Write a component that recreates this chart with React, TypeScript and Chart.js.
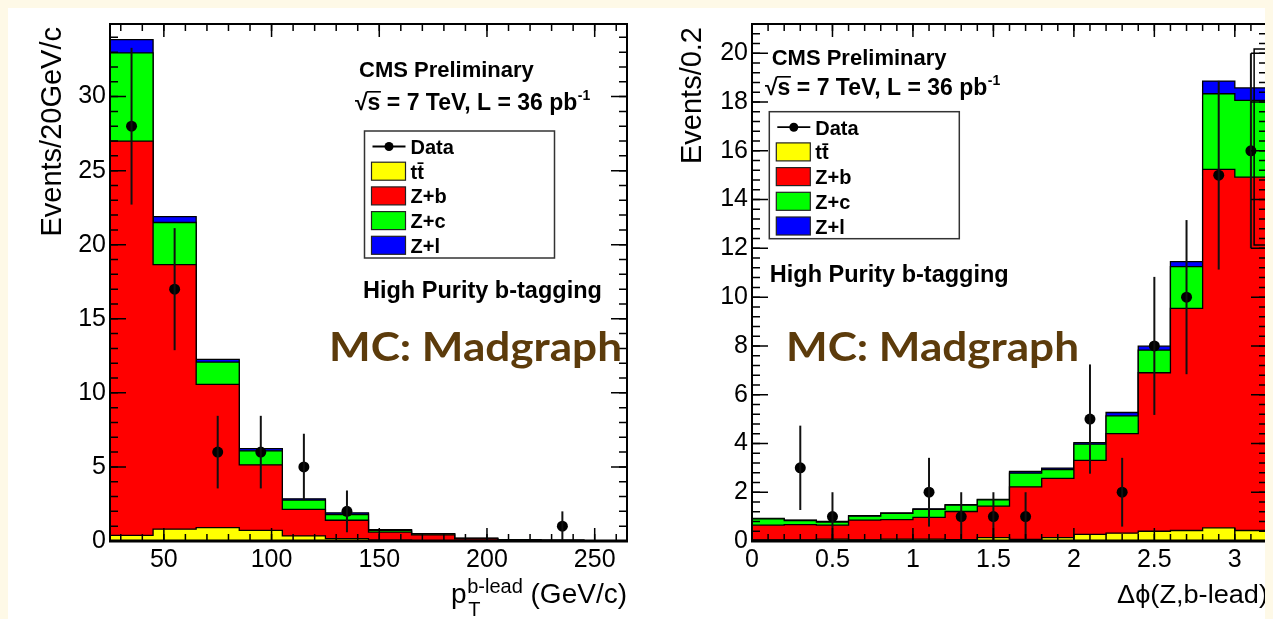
import React, { useEffect, useRef } from 'react';
import { Chart, registerables } from 'chart.js';

Chart.register(...registerables);

// ---------------- Left panel: leading b-jet pT ----------------
const ptBinEdges = [25, 45, 65, 85, 105, 125, 145, 165, 185, 205, 225, 245, 265];
const ptTtbar = [0.38, 0.8, 0.9, 0.72, 0.34, 0.16, 0.05, 0.03, 0.02, 0.01, 0.01, 0.0];
const ptZb = [26.62, 17.86, 9.67, 4.42, 1.79, 1.24, 0.55, 0.39, 0.13, 0.06, 0.03, 0.02];
const ptZc = [5.95, 2.84, 1.51, 0.95, 0.63, 0.39, 0.12, 0.06, 0.03, 0.01, 0.005, 0.005];
const ptZl = [0.9, 0.4, 0.18, 0.15, 0.09, 0.11, 0.05, 0.02, 0.01, 0.005, 0.005, 0.005];
const ptData = [28, 17, 6, 6, 5, 2, 0, 0, 0, 0, 1, 0];
const ptDataErr = [5.29, 4.12, 2.45, 2.45, 2.24, 1.41, 0, 0, 0, 0, 1.0, 0];
const ptYTicks = [0, 5, 10, 15, 20, 25, 30];
const ptXTicks = [50, 100, 150, 200, 250];

// ---------------- Right panel: delta phi(Z, b-lead) ----------------
const dphiBinEdges = [0, 0.2, 0.4, 0.6, 0.8, 1.0, 1.2, 1.4, 1.6, 1.8, 2.0, 2.2, 2.4, 2.6, 2.8, 3.0, 3.2];
const dphiTtbar = [0.04, 0.04, 0.08, 0.05, 0.08, 0.08, 0.06, 0.14, 0.07, 0.14, 0.27, 0.32, 0.4, 0.43, 0.54, 0.43];
const dphiZb = [0.61, 0.63, 0.57, 0.81, 0.8, 0.89, 1.15, 1.29, 2.15, 2.43, 3.04, 4.08, 6.5, 9.11, 14.7, 14.49];
const dphiZc = [0.26, 0.17, 0.13, 0.16, 0.25, 0.33, 0.26, 0.26, 0.56, 0.36, 0.66, 0.73, 0.93, 1.71, 3.1, 3.15];
const dphiZl = [0.02, 0.02, 0.02, 0.02, 0.02, 0.02, 0.02, 0.02, 0.07, 0.06, 0.06, 0.14, 0.16, 0.21, 0.52, 0.51];
const dphiData = [0, 3, 1, 0, 0, 2, 1, 1, 1, 0, 5, 2, 8, 10, 15, 16];
const dphiDataErr = [0, 1.73, 1.0, 0, 0, 1.41, 1.0, 1.0, 1.0, 0, 2.24, 1.41, 2.83, 3.16, 3.87, 4.0];
const dphiYTicks = [0, 2, 4, 6, 8, 10, 12, 14, 16, 18, 20];
const dphiXTicks = [0, 0.5, 1, 1.5, 2, 2.5, 3];
const dphiOverlayX = [3.2, 3.12, 3.12, 3.2];
const dphiOverlayY = [20.17, 20.17, 12.14, 12.14];

// ---------------- Legend ----------------
const legendLabels = ['Data', 'tt\u0304', 'Z+b', 'Z+c', 'Z+l'];
const componentColors = ['#ffff00', '#ff0000', '#00ff00', '#0000ff'];

const FONT = '"Liberation Sans", Arial, Helvetica, sans-serif';
const CANVAS_H = 611;

interface PanelCfg {
  edges: number[];
  comps: number[][];
  data: number[];
  err: number[];
  xMin: number;
  xMax: number;
  yMax: number;
  xTicks: number[];
  yTicks: number[];
  xMinorStep: number;
  yMinorStep: number;
  canvasWidth: number;
  yAxisWidth: number;
  padRight: number;
  yTitle: string;
  yTitleBaseX: number;
  xTitleKind: 'pt' | 'dphi';
  cms: [number, number];
  sqrt: [number, number];
  legend: [number, number];
  purity: [number, number];
  mc: [number, number];
  overlay?: { x: number[]; y: number[] };
}

function cumulate(series: number[][]): number[][] {
  const out: number[][] = [];
  let acc = series[0].map(() => 0);
  for (const s of series) {
    acc = acc.map((a, i) => a + s[i]);
    out.push(acc);
  }
  return out;
}

function histPoints(edges: number[], values: number[]) {
  const pts = values.map((v, i) => ({ x: edges[i], y: v }));
  pts.push({ x: edges[edges.length - 1], y: values[values.length - 1] });
  return pts;
}

function steps(min: number, max: number, step: number): number[] {
  const out: number[] = [];
  const n0 = Math.ceil(min / step - 1e-9);
  const n1 = Math.floor(max / step + 1e-9);
  for (let k = n0; k <= n1; k++) out.push(+(k * step).toFixed(6));
  return out;
}

function fitText(ctx: CanvasRenderingContext2D, text: string, x: number, y: number, font: string, width: number | null, align: CanvasTextAlign = 'left') {
  ctx.font = font;
  const w = ctx.measureText(text).width;
  const sx = width ? width / w : 1;
  ctx.save();
  ctx.translate(x, y);
  ctx.scale(sx, 1);
  ctx.textAlign = align;
  ctx.textBaseline = 'alphabetic';
  ctx.fillText(text, 0, 0);
  ctx.restore();
}

function drawSqrtLine(ctx: CanvasRenderingContext2D, x: number, y: number, size: number) {
  ctx.font = `bold ${size}px ${FONT}`;
  ctx.textAlign = 'left';
  ctx.textBaseline = 'alphabetic';
  ctx.fillStyle = '#000';
  const rad = '\u221A';
  const rm = ctx.measureText(rad);
  ctx.fillText(rad, x, y);
  const top = y - rm.actualBoundingBoxAscent;
  ctx.fillText('s', x + rm.width, y);
  const sw = ctx.measureText('s').width;
  ctx.strokeStyle = '#000';
  ctx.lineWidth = 1.6;
  ctx.beginPath();
  ctx.moveTo(x + rm.width - 1, top + 0.8);
  ctx.lineTo(x + rm.width + sw + 0.5, top + 0.8);
  ctx.stroke();
  let cx = x + rm.width + sw;
  const main = ' = 7 TeV, L = 36 pb';
  ctx.fillText(main, cx, y);
  cx += ctx.measureText(main).width;
  ctx.font = `bold ${Math.round(size * 0.6)}px ${FONT}`;
  ctx.fillText('-1', cx + 0.5, y - size * 0.42);
}

function drawLegend(ctx: CanvasRenderingContext2D, x: number, y: number) {
  const w = 190;
  const h = 127;
  ctx.fillStyle = '#fff';
  ctx.fillRect(x, y, w, h);
  ctx.strokeStyle = '#333';
  ctx.lineWidth = 1.5;
  ctx.strokeRect(x, y, w, h);
  legendLabels.forEach((lab, i) => {
    const cy = y + 15.5 + i * 24.7;
    if (i === 0) {
      ctx.strokeStyle = '#000';
      ctx.lineWidth = 1.8;
      ctx.beginPath();
      ctx.moveTo(x + 8, cy);
      ctx.lineTo(x + 41, cy);
      ctx.stroke();
      ctx.fillStyle = '#000';
      ctx.beginPath();
      ctx.arc(x + 24.5, cy, 4.5, 0, Math.PI * 2);
      ctx.fill();
    } else {
      ctx.fillStyle = componentColors[i - 1];
      ctx.fillRect(x + 7, cy - 9, 34, 18);
      ctx.strokeStyle = '#222';
      ctx.lineWidth = 1.2;
      ctx.strokeRect(x + 7, cy - 9, 34, 18);
    }
    ctx.fillStyle = '#000';
    ctx.font = `bold 20px ${FONT}`;
    ctx.textAlign = 'left';
    ctx.textBaseline = 'alphabetic';
    ctx.fillText(lab, x + 46, cy + 7.5);
  });
}

function rootPlugin(cfg: PanelCfg) {
  return {
    id: 'rootStyle',
    afterDatasetsDraw(chart: any) {
      const { ctx, chartArea: ca, scales } = chart;
      const xs = scales.x;
      const ys = scales.y;
      ctx.save();

      // error bars
      ctx.save();
      ctx.beginPath();
      ctx.rect(ca.left, ca.top, ca.right - ca.left, ca.bottom - ca.top);
      ctx.clip();
      ctx.strokeStyle = '#111';
      ctx.lineWidth = 2;
      cfg.data.forEach((v, i) => {
        if (v <= 0) return;
        const cx = xs.getPixelForValue((cfg.edges[i] + cfg.edges[i + 1]) / 2);
        ctx.beginPath();
        ctx.moveTo(cx, ys.getPixelForValue(v - cfg.err[i]));
        ctx.lineTo(cx, ys.getPixelForValue(v + cfg.err[i]));
        ctx.stroke();
      });
      ctx.restore();

      // ticks
      ctx.strokeStyle = '#000';
      ctx.lineWidth = 1.5;
      const xMinor = steps(cfg.xMin, cfg.xMax, cfg.xMinorStep);
      const yMinor = steps(0, cfg.yMax, cfg.yMinorStep);
      const vTick = (v: number, len: number) => {
        const px = xs.getPixelForValue(v);
        ctx.beginPath();
        ctx.moveTo(px, ca.bottom);
        ctx.lineTo(px, ca.bottom - len);
        ctx.moveTo(px, ca.top);
        ctx.lineTo(px, ca.top + len);
        ctx.stroke();
      };
      const hTick = (v: number, len: number) => {
        const py = ys.getPixelForValue(v);
        ctx.beginPath();
        ctx.moveTo(ca.left, py);
        ctx.lineTo(ca.left + len, py);
        ctx.moveTo(ca.right, py);
        ctx.lineTo(ca.right - len, py);
        ctx.stroke();
      };
      xMinor.forEach((v) => vTick(v, 7));
      cfg.xTicks.forEach((v) => vTick(v, 13));
      yMinor.forEach((v) => hTick(v, 8));
      cfg.yTicks.forEach((v) => hTick(v, 16));

      // frame
      ctx.lineWidth = 2;
      ctx.strokeRect(ca.left, ca.top, ca.right - ca.left, ca.bottom - ca.top);
      ctx.lineWidth = 3;
      ctx.beginPath();
      ctx.moveTo(ca.left - 1, ca.bottom);
      ctx.lineTo(ca.right + 1, ca.bottom);
      ctx.stroke();

      // annotation texts
      ctx.fillStyle = '#000';
      ctx.textAlign = 'left';
      ctx.textBaseline = 'alphabetic';
      ctx.font = `bold 22px ${FONT}`;
      ctx.fillText('CMS Preliminary', ca.left + cfg.cms[0], ca.top + cfg.cms[1]);
      drawSqrtLine(ctx, ca.left + cfg.sqrt[0], ca.top + cfg.sqrt[1], 23);
      drawLegend(ctx, ca.left + cfg.legend[0], ca.top + cfg.legend[1]);
      ctx.fillStyle = '#000';
      ctx.font = `bold 23.5px ${FONT}`;
      ctx.textAlign = 'left';
      ctx.fillText('High Purity b-tagging', ca.left + cfg.purity[0], ca.top + cfg.purity[1]);
      ctx.fillStyle = '#5c3b0b';
      fitText(ctx, 'MC: Madgraph', ca.left + cfg.mc[0], ca.top + cfg.mc[1], `bold 41px Lato, "Open Sans", sans-serif`, 293);

      // y-axis title (rotated)
      ctx.fillStyle = '#000';
      ctx.save();
      ctx.translate(cfg.yTitleBaseX, ca.top + 3);
      ctx.rotate(-Math.PI / 2);
      ctx.font = `29px ${FONT}`;
      ctx.textAlign = 'right';
      ctx.textBaseline = 'alphabetic';
      ctx.fillText(cfg.yTitle, 0, 0);
      ctx.restore();

      // x-axis title
      const base = 595;
      if (cfg.xTitleKind === 'pt') {
        ctx.textAlign = 'left';
        ctx.font = `28px ${FONT}`;
        const tail = ' (GeV/c)';
        const tailW = ctx.measureText(tail).width;
        const xTail = ca.right - tailW;
        ctx.fillText(tail, xTail, base);
        ctx.font = `20px ${FONT}`;
        const supW = ctx.measureText('b-lead').width;
        const xSup = xTail - supW;
        ctx.fillText('b-lead', xSup, base - 10);
        ctx.fillText('T', xSup + 1, base + 13);
        ctx.font = `28px ${FONT}`;
        const pW = ctx.measureText('p').width;
        ctx.fillText('p', xSup - pW - 0.5, base);
      } else {
        fitText(ctx, '\u0394\u03D5(Z,b-lead)', ca.right + 1, base, `26px ${FONT}`, 151, 'right');
      }
      ctx.restore();
    },
  };
}

function buildConfig(cfg: PanelCfg): any {
  const cum = cumulate(cfg.comps);
  const dataPts = cfg.data
    .map((v, i) => ({ x: (cfg.edges[i] + cfg.edges[i + 1]) / 2, y: v }))
    .filter((p) => p.y > 0);
  const datasets: any[] = [
    {
      label: 'Data',
      data: dataPts,
      showLine: false,
      pointRadius: 5.5,
      pointHoverRadius: 5.5,
      pointBackgroundColor: '#000',
      pointBorderColor: '#000',
      pointBorderWidth: 0,
    },
  ];
  if (cfg.overlay) {
    datasets.push({
      label: 'overlay',
      data: cfg.overlay.x.map((x, i) => ({ x, y: cfg.overlay!.y[i] })),
      borderColor: '#000',
      borderWidth: 1.5,
      pointRadius: 0,
      fill: false,
    });
  }
  cum.forEach((vals, k) => {
    datasets.push({
      label: legendLabels[k + 1],
      data: histPoints(cfg.edges, vals),
      stepped: 'before',
      fill: 'origin',
      backgroundColor: componentColors[k],
      borderColor: '#000',
      borderWidth: 1.3,
      pointRadius: 0,
      pointHoverRadius: 0,
    });
  });

  const tickFont = { family: FONT, size: 25 };
  return {
    type: 'line',
    data: { datasets },
    options: {
      animation: false,
      responsive: false,
      devicePixelRatio: 1,
      events: [],
      layout: { padding: { left: 0, top: 16, right: cfg.padRight, bottom: 0 } },
      plugins: { legend: { display: false }, tooltip: { enabled: false } },
      scales: {
        x: {
          type: 'linear',
          min: cfg.xMin,
          max: cfg.xMax,
          grid: { display: false, drawTicks: false },
          border: { display: false },
          afterBuildTicks: (s: any) => {
            s.ticks = cfg.xTicks.map((v) => ({ value: v }));
          },
          afterFit: (s: any) => {
            s.height = CANVAS_H - 16 - 517;
            s.paddingLeft = 0;
            s.paddingRight = 0;
          },
          ticks: {
            font: tickFont,
            color: '#000',
            padding: 4,
            maxRotation: 0,
            autoSkip: false,
            callback: (v: any) => String(v),
          },
        },
        y: {
          type: 'linear',
          min: 0,
          max: cfg.yMax,
          grid: { display: false, drawTicks: false },
          border: { display: false },
          afterBuildTicks: (s: any) => {
            s.ticks = cfg.yTicks.map((v) => ({ value: v }));
          },
          afterFit: (s: any) => {
            s.width = cfg.yAxisWidth;
            s.paddingTop = 0;
            s.paddingBottom = 0;
          },
          ticks: {
            font: tickFont,
            color: '#000',
            padding: 4,
            autoSkip: false,
            callback: (v: any) => String(v),
          },
        },
      },
    },
    plugins: [rootPlugin(cfg)],
  };
}

const leftCfg: PanelCfg = {
  edges: ptBinEdges,
  comps: [ptTtbar, ptZb, ptZc, ptZl],
  data: ptData,
  err: ptDataErr,
  xMin: 25,
  xMax: 265,
  yMax: 34.9,
  xTicks: ptXTicks,
  yTicks: ptYTicks,
  xMinorStep: 10,
  yMinorStep: 1,
  canvasWidth: 632,
  yAxisWidth: 102,
  padRight: 13,
  yTitle: 'Events/20GeV/c',
  yTitleBaseX: 53,
  xTitleKind: 'pt',
  cms: [249, 53],
  sqrt: [245, 86],
  legend: [254.5, 107],
  purity: [253, 273.5],
  mc: [219, 337],
};

const rightCfg: PanelCfg = {
  edges: dphiBinEdges,
  comps: [dphiTtbar, dphiZb, dphiZc, dphiZl],
  data: dphiData,
  err: dphiDataErr,
  xMin: 0,
  xMax: 3.2,
  yMax: 21.2,
  xTicks: dphiXTicks,
  yTicks: dphiYTicks,
  xMinorStep: 0.1,
  yMinorStep: 0.4,
  canvasWidth: 633,
  yAxisWidth: 112,
  padRight: 6,
  yTitle: 'Events/0.2',
  yTitleBaseX: 61,
  xTitleKind: 'dphi',
  cms: [19.7, 41],
  sqrt: [13, 71],
  legend: [17.3, 87.7],
  purity: [17.8, 257.5],
  mc: [34, 337],
  overlay: { x: dphiOverlayX, y: dphiOverlayY },
};

function Panel({ cfg, left }: { cfg: PanelCfg; left: number }) {
  const ref = useRef<HTMLCanvasElement>(null);
  useEffect(() => {
    const chart = new Chart(ref.current as HTMLCanvasElement, buildConfig(cfg));
    return () => chart.destroy();
  }, [cfg]);
  return (
    <canvas
      ref={ref}
      width={cfg.canvasWidth}
      height={CANVAS_H}
      style={{ position: 'absolute', left, top: 0, width: cfg.canvasWidth, height: CANVAS_H, display: 'block' }}
    />
  );
}

export default function App() {
  useEffect(() => {
    document.body.style.background = '#fef9e7';
    document.body.style.overflow = 'hidden';
    document.documentElement.style.overflow = 'hidden';
  }, []);
  return (
    <div style={{ position: 'relative', width: 1265, height: CANVAS_H, background: '#fff', overflow: 'hidden' }}>
      <Panel cfg={leftCfg} left={0} />
      <Panel cfg={rightCfg} left={632} />
    </div>
  );
}
